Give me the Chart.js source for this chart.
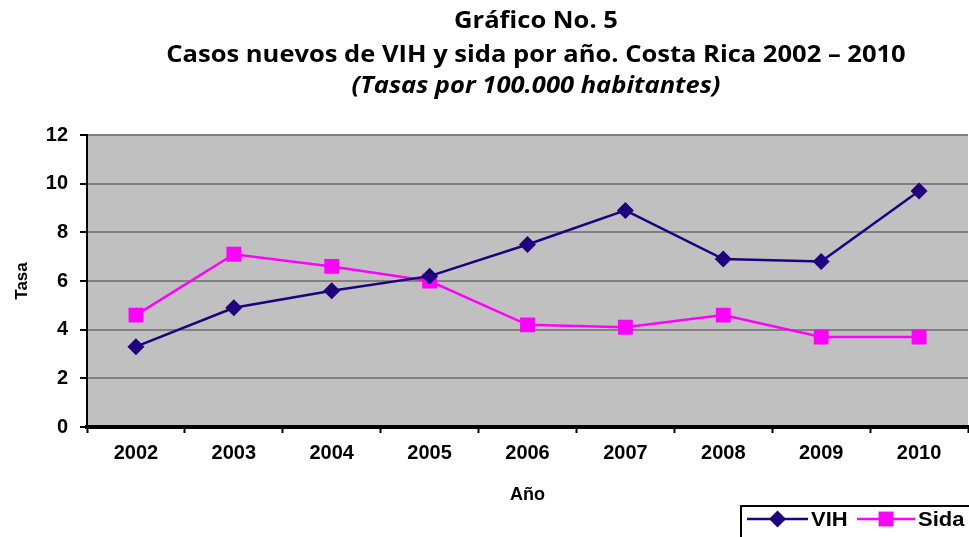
<!DOCTYPE html>
<html>
<head>
<meta charset="utf-8">
<script src="https://cdn.jsdelivr.net/npm/chart.js@4.4.1/dist/chart.umd.min.js"></script>
<style>
html,body{margin:0;padding:0;background:#fff;}
#wrap{width:969px;height:537px;position:relative;}
</style>
</head>
<body>
<div id="wrap"><canvas id="c" width="969" height="537"></canvas></div>
<script>
const years = ['2002','2003','2004','2005','2006','2007','2008','2009','2010'];
const vih = [3.3, 4.9, 5.6, 6.2, 7.5, 8.9, 6.9, 6.8, 9.7];
const sida = [4.6, 7.1, 6.6, 6.0, 4.2, 4.1, 4.6, 3.7, 3.7];
const titleLines = ['Gráfico No. 5', 'Casos nuevos de VIH y sida por año. Costa Rica 2002 – 2010', '(Tasas por 100.000 habitantes)'];
const yTitle = 'Tasa';
const xTitle = 'Año';

const bgPlugin = {
  id: 'bg',
  beforeDraw(chart) {
    const {ctx, chartArea: a} = chart;
    ctx.save();
    ctx.fillStyle = '#c0c0c0';
    ctx.fillRect(a.left, a.top, a.right - a.left, a.bottom - a.top);
    ctx.restore();
  }
};

function stretchedText(ctx, text, cx, cy, sx) {
  ctx.save();
  ctx.translate(cx, cy);
  ctx.scale(sx, 1);
  ctx.fillText(text, 0, 0);
  ctx.restore();
}

const titlePlugin = {
  id: 'customTitle',
  afterDraw(chart) {
    const ctx = chart.ctx;
    ctx.save();
    ctx.fillStyle = '#000';
    ctx.textAlign = 'center';
    ctx.textBaseline = 'middle';
    const cx = 536;
    ctx.font = 'bold 23px "Open Sans"';
    stretchedText(ctx, titleLines[0], cx, 21, 1.11);
    stretchedText(ctx, titleLines[1], cx, 55, 1.11);
    ctx.font = 'italic bold 23px "Open Sans"';
    stretchedText(ctx, titleLines[2], cx, 86, 1.11);
    ctx.restore();
  }
};

const legendPlugin = {
  id: 'customLegend',
  afterDraw(chart) {
    const ctx = chart.ctx;
    ctx.save();
    ctx.strokeStyle = '#000';
    ctx.lineWidth = 2;
    ctx.strokeRect(741, 506, 240, 60);
    const y = 519;
    const items = [
      {ds: chart.data.datasets[0], x0: 747, x1: 808, tx: 811},
      {ds: chart.data.datasets[1], x0: 857, x1: 915, tx: 918}
    ];
    items.forEach(it => {
      ctx.strokeStyle = it.ds.borderColor;
      ctx.lineWidth = 2.5;
      ctx.beginPath();
      ctx.moveTo(it.x0, y);
      ctx.lineTo(it.x1, y);
      ctx.stroke();
      ctx.fillStyle = it.ds.pointBackgroundColor;
      ctx.strokeStyle = it.ds.pointBorderColor;
      Chart.helpers.drawPoint(ctx, {pointStyle: it.ds.pointStyle, radius: it.ds.pointRadius, borderWidth: 0, rotation: 0}, (it.x0 + it.x1) / 2, y);
      ctx.fillStyle = '#000';
      ctx.font = 'bold 20px "Liberation Sans"';
      ctx.textAlign = 'left';
      ctx.textBaseline = 'middle';
      ctx.save();
      ctx.translate(it.tx, y + 1);
      ctx.scale(1.1, 1);
      ctx.fillText(it.ds.label, 0, 0);
      ctx.restore();
    });
    ctx.restore();
  }
};

new Chart(document.getElementById('c'), {
  type: 'line',
  data: {
    labels: years,
    datasets: [
      {
        label: 'VIH', data: vih,
        borderColor: '#1f007f', backgroundColor: '#1f007f',
        pointBackgroundColor: '#1f007f', pointBorderColor: '#1f007f',
        pointStyle: 'rectRot', pointRadius: 8.5, pointHoverRadius: 8.5,
        pointBorderWidth: 0, borderWidth: 2.5, tension: 0, fill: false
      },
      {
        label: 'Sida', data: sida,
        borderColor: '#ff00ff', backgroundColor: '#ff00ff',
        pointBackgroundColor: '#ff00ff', pointBorderColor: '#ff00ff',
        pointStyle: 'rect', pointRadius: 10.5, pointHoverRadius: 10.5,
        pointBorderWidth: 0, borderWidth: 2.5, tension: 0, fill: false
      }
    ]
  },
  options: {
    responsive: false,
    animation: false,
    devicePixelRatio: 1,
    layout: {autoPadding: false, padding: {top: 135, left: 0, right: 1, bottom: 0}},
    plugins: {
      legend: {display: false},
      title: {display: false},
      tooltip: {enabled: false}
    },
    scales: {
      x: {
        type: 'category',
        offset: true,
        afterFit(s) { s.height = 110; s.paddingLeft = 0; s.paddingRight = 0; },
        grid: {offset: true, drawOnChartArea: false, drawTicks: true, tickLength: 6, tickColor: '#000', tickWidth: 2},
        border: {display: true, color: '#000', width: 4},
        ticks: {color: '#000', font: {family: '"Liberation Sans"', size: 20, weight: 'bold'}, padding: 8, maxRotation: 0},
        title: {display: true, text: xTitle, color: '#000', font: {family: '"Liberation Sans"', size: 18, weight: 'bold'}, padding: {top: 0, bottom: 31}}
      },
      y: {
        min: 0, max: 12,
        afterFit(s) { s.width = 87; },
        grid: {color: '#808080', lineWidth: 2, drawTicks: true, tickLength: 7, tickColor: '#000', tickWidth: 2},
        border: {display: true, color: '#000', width: 2},
        ticks: {stepSize: 2, color: '#000', font: {family: '"Liberation Sans"', size: 20, weight: 'bold'}, padding: 12},
        title: {display: true, text: yTitle, color: '#000', font: {family: '"Liberation Sans"', size: 17, weight: 'bold'}, padding: {top: 12, bottom: 0}}
      }
    }
  },
  plugins: [bgPlugin, titlePlugin, legendPlugin]
});
</script>
</body>
</html>
